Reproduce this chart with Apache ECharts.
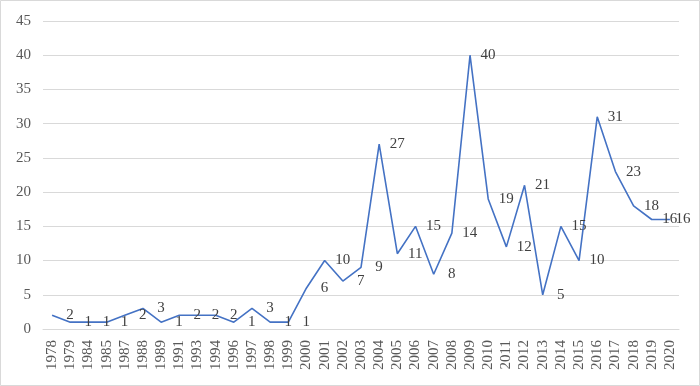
<!DOCTYPE html>
<html><head><meta charset="utf-8">
<script src="https://cdn.jsdelivr.net/npm/echarts@6/dist/echarts.min.js"></script>
<style>html,body{margin:0;padding:0;background:#fff}#c{width:700px;height:386px}</style>
</head><body><div id="c"></div>
<script>
const years = ['1978','1979','1984','1985','1987','1988','1989','1991','1993','1994','1996','1997','1998','1999','2000','2001','2002','2003','2004','2005','2006','2007','2008','2009','2010','2011','2012','2013','2014','2015','2016','2017','2018','2019','2020'];
const counts = [2,1,1,1,2,3,1,2,2,2,1,3,1,1,6,10,7,9,27,11,15,8,14,40,19,12,21,5,15,10,31,23,18,16,16];
const yTicks = {min:0, max:45, interval:5};

const chart = echarts.init(document.getElementById('c'), null, {renderer:'canvas'});
const font = '"Liberation Serif", "DejaVu Serif", serif';
const seriesData = counts.map((v, i) => i === counts.length - 1
  ? {value: v, label: {position: [14, 1]}}
  : v);
chart.setOption({
  animation:false,
  backgroundColor:'#fff',
  graphic:[{type:'rect', shape:{x:0.5,y:0.5,width:699,height:385}, style:{fill:null, stroke:'#d9d9d9', lineWidth:1}, silent:true}],
  grid:{left:43, right:21, top:21, bottom:57},
  xAxis:{type:'category', data:years, boundaryGap:true,
    axisLine:{lineStyle:{color:'#d9d9d9'}}, axisTick:{show:false},
    axisLabel:{rotate:90, interval:0, fontFamily:font, fontSize:15, color:'#595959', margin:11}},
  yAxis:{type:'value', min:yTicks.min, max:yTicks.max, interval:yTicks.interval,
    axisLine:{show:false}, axisTick:{show:false},
    splitLine:{lineStyle:{color:'#d9d9d9', width:1}},
    axisLabel:{fontFamily:font, fontSize:15, color:'#595959', margin:12}},
  series:[{type:'line', data:seriesData, symbol:'circle', symbolSize:2, showSymbol:true,
    itemStyle:{color:'rgba(0,0,0,0)', borderWidth:0},
    lineStyle:{color:'#4472C4', width:1.6},
    labelLayout:{hideOverlap:false},
    label:{show:true, position:[19,1], align:'center', verticalAlign:'middle', fontFamily:font, fontSize:15, color:'#404040'}}]
});
</script></body></html>
